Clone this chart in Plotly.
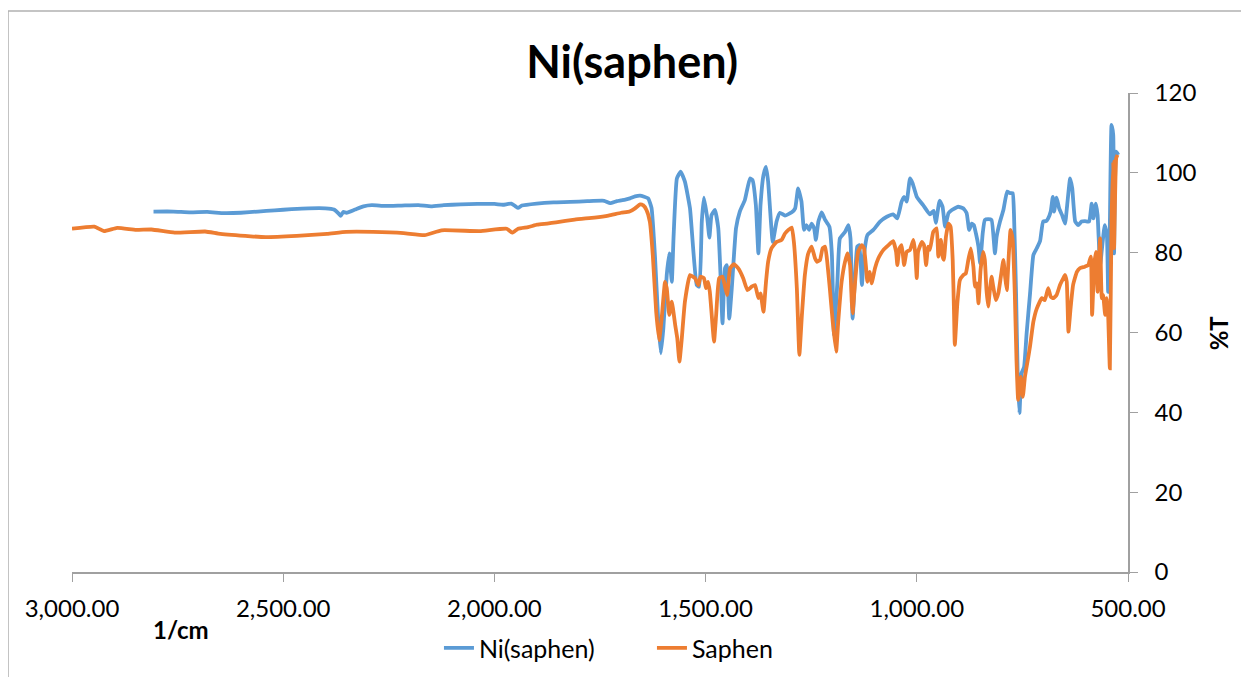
import plotly.graph_objects as go

# Ni(saphen) spectrum, wavenumber (1/cm) vs %T
ni_wn = [2807, 2760, 2720, 2680, 2640, 2600, 2560, 2520, 2480, 2440,
         2400, 2380, 2368, 2364, 2358, 2350, 2330, 2310, 2290, 2260,
         2220, 2180, 2150, 2120, 2080, 2040, 2000, 1980, 1960, 1950,
         1944, 1935, 1900, 1860, 1820, 1780, 1740, 1726, 1710, 1700,
         1690, 1679, 1667, 1655, 1636, 1628, 1620, 1612, 1606, 1600,
         1592, 1586, 1580, 1576, 1568, 1559, 1549, 1537, 1521, 1515,
         1509, 1504, 1496, 1491, 1486, 1478, 1470, 1464, 1460, 1454,
         1450, 1444, 1438, 1428, 1419, 1407, 1395, 1389, 1381, 1375,
         1370, 1363, 1357, 1352, 1341, 1332, 1324, 1312, 1296, 1288,
         1281, 1273, 1267, 1261, 1255, 1249, 1243, 1239, 1233, 1225,
         1217, 1207, 1201, 1196, 1188, 1182, 1170, 1162, 1157, 1152,
         1146, 1141, 1136, 1130, 1125, 1117, 1103, 1087, 1071, 1056,
         1046, 1036, 1030, 1024, 1016, 1010, 1000, 985, 969, 960,
         955, 946, 939, 933, 925, 917, 902, 890, 882, 876,
         870, 865, 860, 854, 850, 844, 839, 831, 823, 815,
         811, 803, 795, 786, 779, 773, 770, 765, 761, 757,
         752, 746, 740, 732, 724, 716, 708, 701, 694, 689,
         683, 678, 675, 669, 663, 656, 649, 644, 637, 632,
         625, 618, 610, 602, 592, 586, 582, 576, 572, 566,
         560, 555, 550, 547, 543, 539, 535, 533, 528, 523]
ni_t = [90.3, 90.3, 90.1, 90.2, 89.9, 90.0, 90.3, 90.6, 90.9, 91.1,
        91.1, 90.8, 89.7, 89.2, 90.2, 90.0, 90.8, 91.6, 91.9, 91.7,
        91.8, 91.9, 91.6, 91.9, 92.1, 92.2, 92.2, 92.0, 92.3, 91.6,
        91.2, 91.8, 92.3, 92.6, 92.7, 92.9, 93.0, 92.4, 92.9, 93.1,
        93.3, 93.6, 94.1, 94.3, 93.6, 91.2, 79.4, 62.7, 54.8, 61.1,
        74.4, 79.8, 72.7, 83.6, 98.6, 100.3, 97.8, 91.1, 71.9, 71.5,
        87.8, 93.8, 88.6, 83.8, 89.4, 90.7, 86.1, 72.7, 62.3, 76.1,
        76.9, 63.5, 71.1, 86.1, 90.3, 93.2, 98.6, 98.2, 91.9, 79.8,
        91.9, 99.4, 101.5, 97.8, 82.7, 87.8, 90.0, 89.3, 90.1, 91.1,
        96.1, 92.8, 85.7, 86.9, 85.7, 87.3, 86.1, 83.2, 87.8, 90.1,
        88.2, 86.5, 79.4, 59.4, 72.7, 83.6, 85.2, 86.9, 83.6, 63.5,
        74.4, 81.5, 81.9, 71.9, 79.4, 84.4, 85.7, 87.8, 89.0, 89.6,
        88.6, 92.8, 94.0, 92.8, 98.6, 97.4, 94.0, 91.9, 89.6, 90.5,
        87.5, 93.0, 91.5, 86.5, 89.9, 90.7, 91.5, 91.1, 89.9, 85.7,
        87.3, 86.9, 84.8, 81.5, 77.3, 84.8, 88.2, 88.4, 88.2, 79.8,
        84.0, 87.8, 90.7, 95.3, 94.9, 94.9, 89.9, 69.8, 48.9, 39.8,
        49.8, 51.4, 59.8, 69.6, 79.4, 81.1, 83.0, 87.8, 87.9, 88.6,
        90.3, 94.0, 90.3, 93.8, 91.1, 89.4, 87.3, 91.9, 98.6, 96.1,
        87.8, 86.9, 87.8, 87.9, 87.8, 92.3, 88.6, 92.3, 89.4, 76.9,
        82.7, 86.9, 84.4, 70.2, 86.9, 112.0, 109.5, 79.8, 105.3, 104.5]

# Saphen ligand spectrum
saphen_wn = [3000, 2947, 2924, 2893, 2848, 2812, 2757, 2685, 2649, 2577,
             2541, 2468, 2396, 2351, 2287, 2215, 2165, 2125, 2035, 1971,
             1958, 1944, 1920, 1899, 1875, 1854, 1810, 1763, 1730, 1700,
             1680, 1667, 1655, 1648, 1640, 1632, 1625, 1617, 1610, 1604,
             1596, 1592, 1586, 1580, 1572, 1567, 1562, 1557, 1549, 1537,
             1525, 1517, 1512, 1504, 1499, 1494, 1490, 1483, 1480, 1475,
             1468, 1460, 1454, 1449, 1442, 1433, 1423, 1411, 1401, 1391,
             1383, 1375, 1370, 1363, 1357, 1352, 1344, 1332, 1320, 1312,
             1304, 1296, 1291, 1284, 1278, 1272, 1265, 1257, 1249, 1241,
             1236, 1229, 1223, 1217, 1212, 1206, 1199, 1191, 1186, 1178,
             1170, 1164, 1158, 1154, 1152, 1146, 1139, 1130, 1125, 1120,
             1117, 1112, 1107, 1099, 1091, 1079, 1067, 1056, 1049, 1046,
             1041, 1036, 1030, 1024, 1016, 1008, 1004, 1000, 997, 988,
             983, 978, 973, 969, 961, 953, 949, 943, 939, 936,
             931, 925, 920, 915, 912, 910, 904, 898, 890, 884,
             878, 872, 866, 862, 858, 854, 849, 843, 839, 835,
             831, 827, 823, 819, 813, 807, 801, 795, 791, 787,
             782, 778, 773, 768, 764, 760, 754, 749, 744, 736,
             732, 724, 716, 704, 697, 689, 683, 677, 669, 661,
             653, 649, 645, 641, 636, 630, 621, 614, 602, 594,
             588, 585, 580, 576, 572, 566, 562, 559, 554, 550,
             547, 543, 539, 535, 533, 528, 525]
saphen_t = [86.0, 86.5, 85.4, 86.2, 85.7, 85.8, 85.0, 85.3, 84.7, 84.1,
            83.9, 84.2, 84.7, 85.2, 85.2, 84.9, 84.4, 85.6, 85.4, 86.0,
            85.0, 86.0, 86.4, 87.0, 87.3, 87.6, 88.3, 88.8, 89.3, 90.0,
            90.3, 91.1, 92.1, 91.9, 90.7, 87.8, 79.4, 65.2, 58.1, 63.5,
            72.7, 71.1, 64.4, 67.7, 61.9, 58.5, 52.7, 57.7, 67.7, 74.4,
            73.6, 71.9, 74.0, 73.6, 71.1, 72.7, 70.2, 61.0, 57.7, 64.4,
            73.6, 74.0, 71.5, 69.4, 76.1, 77.1, 76.1, 73.6, 70.6, 71.5,
            71.9, 68.6, 69.8, 65.2, 72.7, 77.7, 81.1, 82.7, 83.2, 84.8,
            85.7, 86.3, 82.7, 71.1, 54.4, 64.4, 74.4, 79.8, 81.5, 78.6,
            77.7, 78.2, 81.1, 81.5, 77.7, 71.1, 62.7, 55.2, 62.7, 72.7,
            77.7, 79.8, 76.9, 67.7, 64.8, 72.7, 80.2, 81.9, 81.1, 76.1,
            72.7, 75.2, 72.3, 76.1, 78.6, 80.7, 81.9, 82.9, 80.2, 76.9,
            81.1, 81.9, 76.9, 80.2, 80.7, 83.2, 80.2, 73.6, 80.2, 82.7,
            81.9, 76.9, 81.5, 80.7, 85.2, 86.1, 79.0, 83.2, 79.0, 78.2,
            84.0, 87.3, 86.5, 78.2, 65.6, 56.9, 67.3, 73.1, 74.4, 74.8,
            78.2, 81.1, 76.5, 71.5, 72.3, 67.3, 75.7, 80.2, 78.2, 70.6,
            66.5, 70.6, 74.0, 71.5, 68.1, 69.8, 74.0, 78.2, 74.0, 70.6,
            79.8, 85.7, 83.2, 69.8, 53.1, 43.1, 48.9, 43.9, 48.9, 53.9,
            56.5, 62.7, 66.0, 68.6, 68.1, 71.1, 69.0, 68.6, 69.4, 71.9,
            73.6, 74.4, 72.7, 60.2, 66.0, 71.9, 75.2, 76.1, 76.5, 76.9,
            79.0, 64.4, 76.9, 80.2, 70.2, 83.6, 68.6, 69.4, 64.4, 68.6,
            64.4, 51.0, 87.8, 102.8, 81.1, 103.6, 104.5]

FONT = "Lato, Calibri, Carlito, sans-serif"
AXIS_GRAY = "#A0A0A0"

fig = go.Figure()
fig.add_trace(go.Scatter(x=ni_wn, y=ni_t, mode="lines", name="Ni(saphen)",
                         line=dict(color="#5B9BD5", width=3.8, shape="spline", smoothing=0.4)))
fig.add_trace(go.Scatter(x=saphen_wn, y=saphen_t, mode="lines", name="Saphen",
                         line=dict(color="#ED7D31", width=3.8, shape="spline", smoothing=0.4)))

# page body has an 8px margin, so the figure is 8px smaller than the window
fig.update_layout(
    width=1241, height=669,
    margin=dict(l=64, r=121, t=85, b=105, autoexpand=False),
    paper_bgcolor="white", plot_bgcolor="white",
    font=dict(family=FONT, size=24, color="#000000"),
    title=dict(text="Ni(saphen)", x=0.503, xanchor="center", y=0.919, yanchor="middle",
               font=dict(family=FONT, size=45, weight="bold", color="#000000")),
    showlegend=True,
    legend=dict(orientation="h", x=0.3475, xanchor="left", y=-0.159, yanchor="middle",
                entrywidth=168, entrywidthmode="pixels",
                font=dict(size=25), bgcolor="rgba(0,0,0,0)"),
    xaxis=dict(range=[3000, 500], dtick=500, tick0=500, tickformat=",.2f",
               showgrid=False, zeroline=False, showline=True, linecolor=AXIS_GRAY,
               linewidth=1.5, ticks="outside", ticklen=8, tickcolor=AXIS_GRAY,
               tickfont=dict(size=24), ticklabelstandoff=6, automargin=False),
    yaxis=dict(range=[0, 120], dtick=20, side="right", showgrid=False, zeroline=False,
               showline=True, linecolor=AXIS_GRAY, linewidth=1.5, ticks="outside",
               ticklen=8, tickcolor=AXIS_GRAY, tickfont=dict(size=24),
               ticklabelstandoff=12, automargin=False),
)

# axis titles placed like the original
fig.add_annotation(text="<b>1/cm</b>", xref="paper", yref="paper", x=0.103, y=-0.12,
                   showarrow=False, font=dict(size=24), xanchor="center", yanchor="middle")
fig.add_annotation(text="<b>%T</b>", xref="paper", yref="paper", x=1.086, y=0.5,
                   showarrow=False, textangle=-90, font=dict(size=24),
                   xanchor="center", yanchor="middle")

# chart frame border (top and left edges visible)
fig.add_shape(type="line", xref="paper", yref="paper", x0=-0.0606, x1=1.12, y0=1.1712, y1=1.1712,
              line=dict(color="#B0B0B0", width=1.5))
fig.add_shape(type="line", xref="paper", yref="paper", x0=-0.0606, x1=-0.0606, y0=1.1712, y1=-0.23,
              line=dict(color="#B0B0B0", width=1.5))

fig.write_html("out.html")
